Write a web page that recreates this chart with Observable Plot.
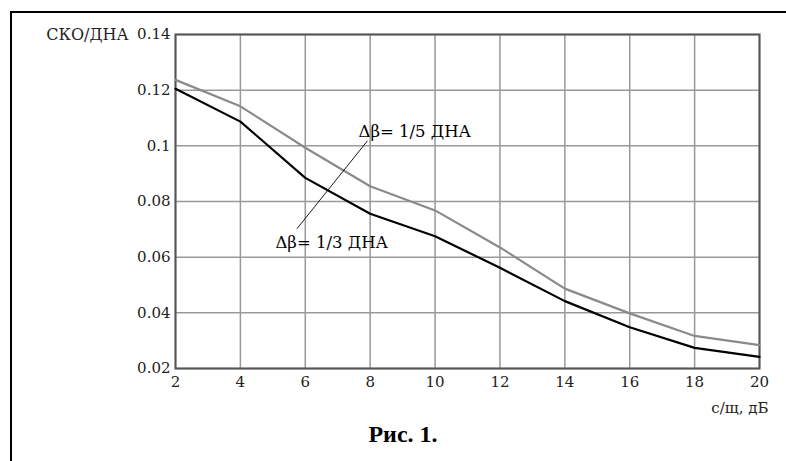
<!DOCTYPE html>
<html><head><meta charset="utf-8">
<script src="https://cdn.jsdelivr.net/npm/d3@7"></script>
<script src="https://cdn.jsdelivr.net/npm/@observablehq/plot@0.6"></script>
<style>
body{margin:0;background:#fff;}
#wrap{position:relative;width:786px;height:461px;overflow:hidden;background:#fff;}
#frame{position:absolute;left:10px;top:11px;width:800px;height:470px;border-left:2px solid #000;border-top:2px solid #000;}
#chart{position:absolute;left:0;top:0;}
#cap{position:absolute;left:0;width:806px;top:421px;text-align:center;font:bold 24px "Liberation Serif",serif;color:#000;}
</style></head>
<body>
<div id="wrap"><div id="frame"></div><div id="chart"></div><div id="cap">Рис. 1.</div></div>
<script>
const snr = [2, 4, 6, 8, 10, 12, 14, 16, 18, 20];
const sko15 = [0.1237, 0.1142, 0.0993, 0.0855, 0.0768, 0.0635, 0.0487, 0.0398, 0.0317, 0.0284];
const sko13 = [0.1205, 0.1087, 0.0885, 0.0756, 0.0675, 0.0562, 0.0442, 0.0348, 0.0274, 0.0242];
const xTicks = [2, 4, 6, 8, 10, 12, 14, 16, 18, 20];
const yTicks = [0.02, 0.04, 0.06, 0.08, 0.1, 0.12, 0.14];
const yTickLabels = ["0.02", "0.04", "0.06", "0.08", "0.1", "0.12", "0.14"];
const labels = [
  {x: 7.64, y: 0.1049, text: "Δβ= 1/5 ДНА"},
  {x: 5.08, y: 0.0652, text: "Δβ= 1/3 ДНА"}
];
const leader = [{x: 7.91, y: 0.1017}, {x: 5.75, y: 0.0703}];

const d15 = snr.map((x, i) => ({x, y: sko15[i]}));
const d13 = snr.map((x, i) => ({x, y: sko13[i]}));

const chart = Plot.plot({
  width: 786, height: 461,
  marginLeft: 175, marginTop: 34, marginRight: 27, marginBottom: 93,
  style: {fontFamily: "'DejaVu Serif', serif", fontSize: "15px", background: "transparent", color: "#000"},
  x: {domain: [2, 20], ticks: xTicks},
  y: {domain: [0.02, 0.14], ticks: yTicks},
  marks: [
    Plot.gridX(xTicks, {stroke: "#999", strokeOpacity: 1, strokeWidth: 1.5}),
    Plot.gridY(yTicks, {stroke: "#999", strokeOpacity: 1, strokeWidth: 1.5}),
    Plot.frame({stroke: "#555", strokeWidth: 2}),
    Plot.axisX(xTicks, {tickSize: 0, tickPadding: 8, label: null, fill: "#222", fontSize: 15}),
    Plot.axisY(yTicks, {tickSize: 0, tickPadding: 5, label: null, fill: "#222", fontSize: 15, tickFormat: (d, i) => yTickLabels[i]}),
    Plot.line(d15, {x: "x", y: "y", stroke: "#8a8a8a", strokeWidth: 2.2}),
    Plot.line(d13, {x: "x", y: "y", stroke: "#000", strokeWidth: 2.2}),
    Plot.line(leader, {x: "x", y: "y", stroke: "#000", strokeWidth: 0.9}),
    Plot.text(labels, {x: "x", y: "y", text: "text", textAnchor: "start", fill: "#000", fontSize: 16.5}),
    Plot.text(["СКО/ДНА"], {x: () => 2, y: () => 0.14, text: d => d, textAnchor: "end", dx: -47, fill: "#222", fontSize: 16}),
    Plot.text(["с/щ, дБ"], {x: () => 20, y: () => 0.02, text: d => d, textAnchor: "end", dx: 9, dy: 40, fill: "#222", fontSize: 15})
  ]
});
document.getElementById("chart").appendChild(chart);
</script>
</body></html>
